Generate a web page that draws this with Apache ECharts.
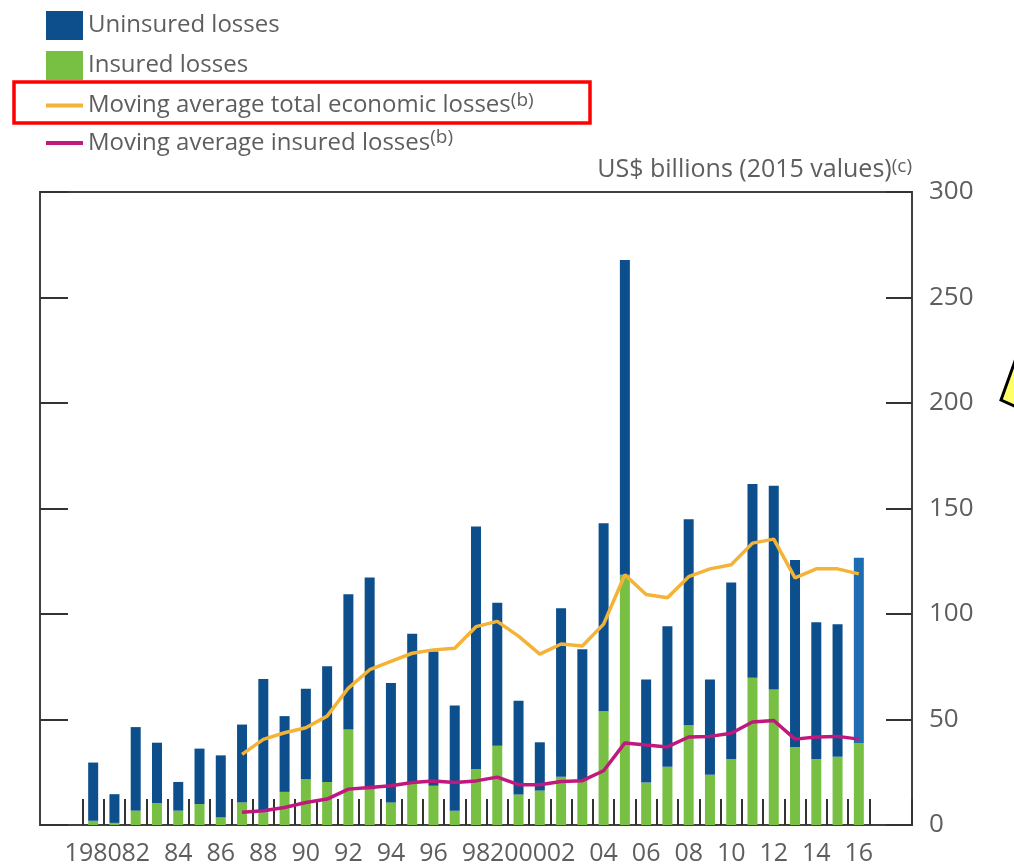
<!DOCTYPE html>
<html>
<head>
<meta charset="utf-8">
<script src="https://cdn.jsdelivr.net/npm/echarts@6/dist/echarts.min.js"></script>
<style>
html,body{margin:0;padding:0;background:#fff;}
#chart{width:1014px;height:866px;}
</style>
</head>
<body>
<div id="chart"></div>
<script>
// ---- data (US$ billions, 2015 values) ----
const years = ['1980','1981','1982','1983','1984','1985','1986','1987','1988','1989',
  '1990','1991','1992','1993','1994','1995','1996','1997','1998','1999',
  '2000','2001','2002','2003','2004','2005','2006','2007','2008','2009',
  '2010','2011','2012','2013','2014','2015','2016'];
const insuredLosses = [2, 1, 6.8, 10.4, 6.8, 9.9, 3.6, 10.7, 6, 15.7,
  21.7, 20.4, 45.3, 17, 10.7, 20.1, 18.6, 6.8, 26.4, 37.6,
  14.5, 16.3, 22.9, 21, 53.9, 118.6, 20.1, 27.6, 47.3, 23.8,
  31.3, 69.8, 64.2, 37, 31.3, 32.3, 38.9];
const uninsuredLosses = [27.6, 13.6, 39.6, 28.6, 13.6, 26.3, 29.4, 36.9, 63.2, 35.9,
  42.9, 54.8, 64.1, 100.3, 56.6, 70.5, 63.6, 49.8, 115.1, 67.7,
  44.4, 22.9, 79.8, 62.3, 89.1, 149.2, 48.8, 66.6, 97.6, 45.1,
  83.6, 91.8, 96.6, 88.6, 64.8, 62.9, 87.8];
// moving averages, 1987-2016
const maYears = ['1987','1988','1989','1990','1991','1992','1993','1994','1995','1996',
  '1997','1998','1999','2000','2001','2002','2003','2004','2005','2006',
  '2007','2008','2009','2010','2011','2012','2013','2014','2015','2016'];
const maTotalLosses = [33.5, 40.6, 43.7, 46.1, 51.6, 64.9, 73.6, 77.5, 81.4, 83,
  83.8, 94, 96.5, 89.5, 81, 85.8, 84.8, 95.2, 118.6, 109.2,
  107.7, 117.7, 121.4, 123.3, 133.6, 135.5, 117.1, 121.4, 121.4, 119];
const maInsuredLosses = [6, 6.8, 8.3, 10.7, 12.3, 17, 17.8, 18.6, 20.1, 20.9,
  20.1, 20.9, 22.7, 19.1, 19.1, 20.6, 21, 25.7, 38.9, 37.9,
  37, 41.7, 42, 43.5, 48.8, 49.5, 40.7, 41.7, 42, 40.7];
const yTicks = [0, 50, 100, 150, 200, 250, 300];

// ---- build ----
const padBefore = ['1978','1979'];
const padAfter = ['2017','2018'];
const categories = padBefore.concat(years, padAfter);
function onAxis(vals, valYears) {
  const map = {};
  valYears.forEach((y, i) => { map[y] = vals[i]; });
  return categories.map(c => (c in map ? map[c] : null));
}
const BLUE = '#0c4f8c', BLUE_LAST = '#1e6db2', GREEN = '#78c043';
const YELLOW = '#f4b336', MAGENTA = '#c0187c';
const insuredData = onAxis(insuredLosses, years);
const uninsuredData = onAxis(uninsuredLosses, years).map((v, i) => {
  if (categories[i] === years[years.length - 1] && v != null) {
    return { value: v, itemStyle: { color: BLUE_LAST } };
  }
  return v;
});
const firstYear = +years[0], lastYear = +years[years.length - 1];

const TXT = '#5e5e5e';
const FONT = '"Open Sans", "Noto Sans", sans-serif';
const chart = echarts.init(document.getElementById('chart'));
chart.setOption({
  animation: false,
  backgroundColor: '#fff',
  textStyle: { fontFamily: FONT },
  legend: {
    orient: 'vertical',
    left: 39, top: 6,
    itemWidth: 37, itemHeight: 29, itemGap: 11,
    selectedMode: false,
    data: [
      { name: 'Uninsured losses', icon: 'rect' },
      { name: 'Insured losses', icon: 'rect' },
      { name: 'Moving average total economic losses', itemStyle: { color: 'transparent', opacity: 0 }, lineStyle: { width: 4 } },
      { name: 'Moving average insured losses', itemStyle: { color: 'transparent', opacity: 0 }, lineStyle: { width: 4 } }
    ],
    formatter: function (name) {
      if (name.indexOf('Moving') === 0) return '{t|' + name + '}{s|(b)}';
      return '{t|' + name + '}';
    },
    textStyle: {
      color: TXT, fontFamily: FONT, fontSize: 24,
      padding: [0, 0, 0, 0],
      rich: {
        t: { fontSize: 24, color: TXT, fontFamily: FONT, lineHeight: 29 },
        s: { fontSize: 19, color: TXT, fontFamily: FONT, verticalAlign: 'top', lineHeight: 18 }
      }
    }
  },
  grid: {
    left: 40, right: 102, top: 192, bottom: 40,
    show: true, borderColor: '#404040', borderWidth: 2,
    containLabel: false
  },
  xAxis: {
    type: 'category',
    data: categories,
    boundaryGap: true,
    axisLine: { show: true, lineStyle: { color: '#404040', width: 2 } },
    axisTick: {
      show: true, inside: true, length: 26,
      lineStyle: { color: '#333', width: 2 },
      interval: function (idx, val) { const y = +val; return y >= firstYear && y <= lastYear + 1; }
    },
    axisLabel: {
      color: TXT, fontFamily: FONT, fontSize: 25, margin: 16,
      hideOverlap: false,
      interval: function (idx, val) {
        const y = +val;
        if (idx === 0 || idx === categories.length - 1) return true; // blank end labels
        return y >= firstYear && y <= lastYear && y % 2 === 0;
      },
      formatter: function (val) {
        const y = +val;
        if (y < firstYear || y > lastYear) return '';
        if (y === 1980 || y === 2000) return val;
        return val.slice(2);
      }
    },
    splitLine: { show: false }
  },
  yAxis: [
    {
      type: 'value', position: 'left', min: yTicks[0], max: yTicks[yTicks.length - 1], interval: 50,
      axisLine: { show: true, lineStyle: { color: '#404040', width: 2 } },
      axisTick: { show: true, inside: true, length: 28, lineStyle: { color: '#333', width: 2 } },
      axisLabel: { show: false },
      splitLine: { show: false }
    },
    {
      type: 'value', position: 'right', min: yTicks[0], max: yTicks[yTicks.length - 1], interval: 50,
      name: '{n|US$ billions (2015 values)}{s|(c)}',
      nameLocation: 'end', nameGap: 22,
      nameTextStyle: {
        align: 'right', verticalAlign: 'middle',
        rich: {
          n: { fontSize: 25, color: TXT, fontFamily: FONT, lineHeight: 26 },
          s: { fontSize: 19, color: TXT, fontFamily: FONT, verticalAlign: 'top', lineHeight: 14 }
        }
      },
      axisLine: { show: true, lineStyle: { color: '#404040', width: 2 } },
      axisTick: { show: true, inside: true, length: 26, lineStyle: { color: '#333', width: 2 } },
      axisLabel: { color: TXT, fontFamily: FONT, fontSize: 26, margin: 17, showMinLabel: true, showMaxLabel: true },
      splitLine: { show: false }
    }
  ],
  series: [
    {
      name: 'Insured losses', type: 'bar', stack: 'loss', yAxisIndex: 1,
      barWidth: 10, data: insuredData, itemStyle: { color: GREEN }, z: 2
    },
    {
      name: 'Uninsured losses', type: 'bar', stack: 'loss', yAxisIndex: 1,
      barWidth: 10, data: uninsuredData, itemStyle: { color: BLUE }, z: 2
    },
    {
      name: 'Moving average total economic losses', type: 'line', yAxisIndex: 1,
      data: onAxis(maTotalLosses, maYears), symbol: 'none', connectNulls: false,
      lineStyle: { color: YELLOW, width: 3.5 }, itemStyle: { color: YELLOW }, z: 4
    },
    {
      name: 'Moving average insured losses', type: 'line', yAxisIndex: 1,
      data: onAxis(maInsuredLosses, maYears), symbol: 'none', connectNulls: false,
      lineStyle: { color: MAGENTA, width: 3.5 }, itemStyle: { color: MAGENTA }, z: 4
    }
  ],
  graphic: [
    {
      type: 'rect', shape: { x: 14, y: 82, width: 576, height: 41 },
      style: { fill: 'none', stroke: '#ff0000', lineWidth: 3.5 }, z: 100
    },
    {
      type: 'polygon', shape: { points: [[1001, 400], [1019, 350], [1019, 408]] },
      style: { fill: '#ffff66', stroke: '#000', lineWidth: 3 }, z: 100
    }
  ]
});
</script>
</body>
</html>
